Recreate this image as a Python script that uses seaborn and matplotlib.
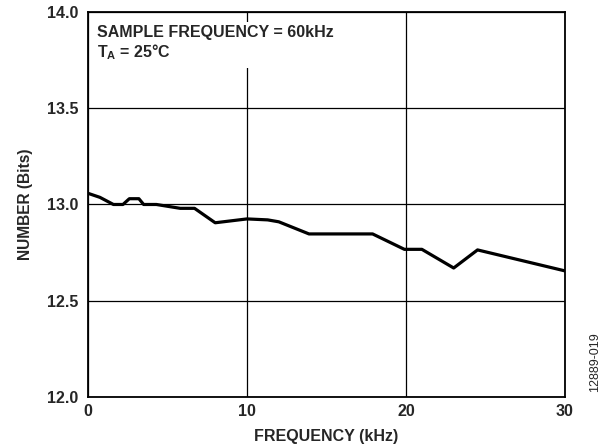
import matplotlib

matplotlib.use("Agg")
import matplotlib.pyplot as plt
import pandas as pd
import seaborn as sns

# values
freq_khz = [0.0, 0.75, 1.6, 2.2, 2.6, 3.2, 3.5, 4.3, 5.8, 6.7, 8.0, 10.0, 11.3, 12.0,
            13.9, 17.9, 18.9, 19.9, 21.0, 23.0, 24.5, 30.0]
enob_bits = [13.058, 13.037, 13.0, 13.0, 13.03, 13.03, 13.0, 13.0, 12.98, 12.98, 12.905,
             12.925, 12.92, 12.91, 12.847, 12.847, 12.807, 12.767, 12.767, 12.67, 12.764, 12.655]
x_ticks = [0, 10, 20, 30]
y_ticks = [12.0, 12.5, 13.0, 13.5, 14.0]

sns.set_theme(style="white")
plt.rcParams["font.family"] = ["Liberation Sans", "DejaVu Sans"]
plt.rcParams["font.weight"] = "bold"
plt.rcParams["mathtext.fontset"] = "custom"
plt.rcParams["mathtext.rm"] = "Liberation Sans:bold"
plt.rcParams["mathtext.bf"] = "Liberation Sans:bold"
plt.rcParams["mathtext.it"] = "Liberation Sans:bold"

fs = 11.5

fig = plt.figure(figsize=(6.04, 4.47), dpi=100)
ax = fig.add_axes([0.1457, 0.1119, 0.9354 - 0.1457, 0.9732 - 0.1119])

df = pd.DataFrame({"freq": freq_khz, "bits": enob_bits})
sns.lineplot(data=df, x="freq", y="bits", color="black", linewidth=2.3, ax=ax, zorder=3)

ax.set_xlim(0, 30)
ax.set_ylim(12.0, 14.0)
ax.set_xticks(x_ticks)
ax.set_yticks(y_ticks)
ax.set_xticklabels([str(t) for t in x_ticks], fontsize=fs, fontweight="bold")
ax.set_yticklabels([f"{t:.1f}" for t in y_ticks], fontsize=fs, fontweight="bold")
ax.tick_params(axis="x", length=0, pad=5)
ax.tick_params(axis="y", length=0, pad=7)
ax.grid(True, color="black", linewidth=0.9)
for s in ax.spines.values():
    s.set_color("black")
    s.set_linewidth(1.3)

ax.set_xlabel("FREQUENCY (kHz)", fontsize=fs, fontweight="bold", labelpad=7)
ax.set_ylabel("NUMBER (Bits)", fontsize=11.2, fontweight="bold", labelpad=10)

ax.text(0.55, 13.93, "SAMPLE FREQUENCY = 60kHz\n$\\mathregular{T_A}$ = 25°C", fontsize=fs,
        fontweight="bold", va="top", ha="left", linespacing=1.15, zorder=4,
        bbox=dict(facecolor="white", edgecolor="none", pad=4))

fig.text(0.985, 0.19, "12889-019", rotation=90, fontsize=9, fontweight="normal",
         ha="center", va="center")

fig.savefig("out.png", dpi=100)
